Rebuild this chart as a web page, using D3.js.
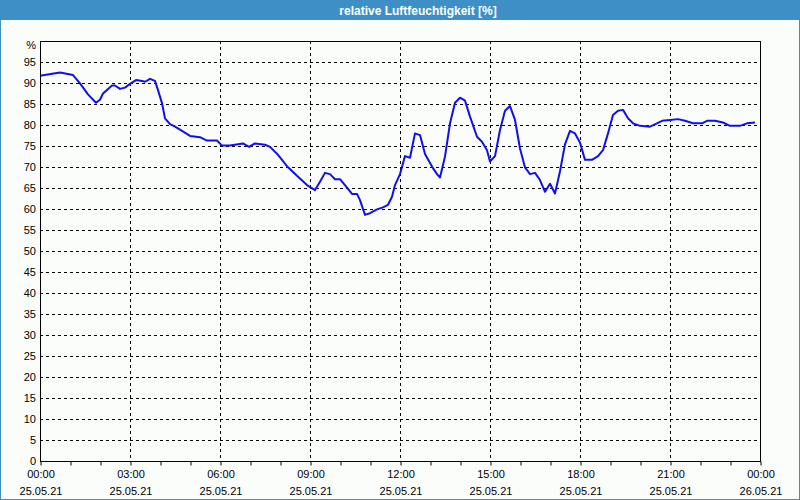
<!DOCTYPE html>
<html><head><meta charset="utf-8">
<script src="https://cdn.jsdelivr.net/npm/d3@7"></script>
<style>
html,body{margin:0;padding:0;background:#fff;}
svg{display:block;font-family:"Liberation Sans",Arial,sans-serif;}
</style></head>
<body><svg id="c" width="800" height="500"></svg>
<script>
const title = "relative Luftfeuchtigkeit [%]";
// minutes since 25.05.21 00:00
const minutes = [0,40,66,80,96,112,120,126,144,150,160,170,180,192,204,210,220,230,236,244,250,260,270,284,300,320,334,354,364,380,406,418,430,450,460,476,494,514,534,550,560,570,580,590,600,614,624,634,640,650,660,674,686,696,704,710,720,730,740,750,760,770,784,794,800,810,820,830,840,850,860,874,884,894,900,910,920,930,940,950,960,970,980,990,1000,1010,1020,1030,1040,1050,1060,1070,1080,1090,1104,1116,1126,1136,1146,1156,1166,1176,1186,1200,1220,1234,1244,1260,1276,1290,1306,1324,1334,1350,1366,1380,1400,1414,1430];
const humidity = [91.7,92.5,91.9,89.9,87.3,85.3,86,87.5,89.4,89.4,88.6,88.9,89.8,90.7,90.5,90.3,91,90.5,88.3,85.2,81.6,80.2,79.6,78.6,77.4,77.1,76.3,76.3,75.1,75.1,75.6,74.8,75.6,75.3,74.8,72.9,70.2,67.9,65.7,64.5,66.5,68.6,68.3,67.1,67.1,65.1,63.6,63.6,62.1,58.6,59,59.9,60.4,61,62.9,65.7,68.3,72.6,72.2,78,77.6,73.1,70.1,68.3,67.5,72.5,80.4,85.3,86.5,85.8,82,77.2,76,74,71.3,72.6,78.8,83.4,84.5,81.2,74.4,69.9,68.3,68.6,66.9,64.1,66,63.7,69,75.4,78.6,78,75.8,71.7,71.7,72.6,74,78,82.4,83.4,83.6,81.6,80.4,79.8,79.6,80.4,81,81.2,81.4,81,80.4,80.4,81,81,80.6,79.8,79.8,80.4,80.6];
const xTickTimes = ["00:00","03:00","06:00","09:00","12:00","15:00","18:00","21:00","00:00"];
const xTickDates = ["25.05.21","25.05.21","25.05.21","25.05.21","25.05.21","25.05.21","25.05.21","25.05.21","26.05.21"];
const yTicks = [0,5,10,15,20,25,30,35,40,45,50,55,60,65,70,75,80,85,90,95,100];

const svg = d3.select("#c");
const W = 800, H = 500;
const m = {left:40, right:760, top:41, bottom:461};

// background + frame
svg.append("rect").attr("x",0).attr("y",0).attr("width",W).attr("height",H).attr("fill","#3d8fc6");
svg.append("rect").attr("x",1).attr("y",20).attr("width",W-2).attr("height",H-21).attr("fill","#fbfdfb");
svg.append("text").attr("x",418).attr("y",14.5).attr("text-anchor","middle")
  .attr("fill","#fff").attr("font-weight","bold").attr("font-size","12px").text(title);

const x = d3.scaleLinear().domain([0,1440]).range([m.left,m.right]);
const y = d3.scaleLinear().domain([0,100]).range([m.bottom,m.top]);

// grid
const g = svg.append("g");
g.selectAll(".hg").data(yTicks.filter(v=>v>0&&v<100)).join("line")
  .attr("x1",m.left).attr("x2",m.right).attr("y1",d=>y(d)+0.5).attr("y2",d=>y(d)+0.5)
  .attr("stroke","#000").attr("stroke-dasharray","3,3").attr("stroke-width",1);
const majors = d3.range(180,1440,180);
g.selectAll(".vg").data(majors).join("line")
  .attr("y1",m.top).attr("y2",m.bottom).attr("x1",d=>x(d)+0.5).attr("x2",d=>x(d)+0.5)
  .attr("stroke","#000").attr("stroke-dasharray","3,3").attr("stroke-width",1);

// bottom axis ticks (hourly)
const xAxis = d3.axisBottom(x).tickValues(d3.range(0,1441,60)).tickSize(4).tickFormat("");
const ax = svg.append("g").attr("transform",`translate(0.5,${m.bottom+0.5})`).call(xAxis);
ax.select(".domain").remove();
ax.selectAll("line").attr("stroke","#000");

// x labels
const lab = svg.append("g").attr("font-size","11px").attr("fill","#000").attr("text-anchor","middle");
xTickTimes.forEach((t,i)=>{
  const xv = x(i*180);
  lab.append("text").attr("x",xv+1).attr("y",478).text(t);
  lab.append("text").attr("x",xv+1).attr("y",495).text(xTickDates[i]);
});
// y labels
const yl = svg.append("g").attr("font-size","11px").attr("fill","#000").attr("text-anchor","end");
yTicks.forEach(v=>{
  yl.append("text").attr("x",36).attr("y",y(v)+(v===100?8:4)).text(v===100?"%":v);
});

// line
const line = d3.line().x((d,i)=>x(minutes[i])).y(d=>y(d));
svg.append("path").datum(humidity).attr("d",line).attr("fill","none")
  .attr("stroke","#1010ea").attr("stroke-width",2).attr("stroke-linejoin","round");

// plot border
svg.append("rect").attr("x",m.left+0.5).attr("y",m.top+0.5).attr("width",m.right-m.left).attr("height",m.bottom-m.top)
  .attr("fill","none").attr("stroke","#000").attr("stroke-width",1);
</script></body></html>
